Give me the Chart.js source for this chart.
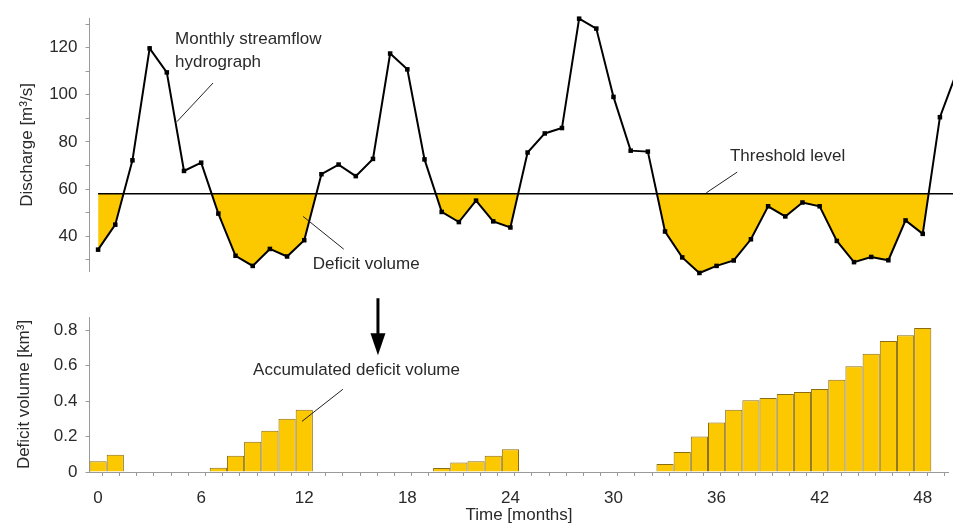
<!DOCTYPE html>
<html>
<head>
<meta charset="utf-8">
<script src="https://cdn.jsdelivr.net/npm/chart.js@4.4.0/dist/chart.umd.min.js"></script>
<style>
  html, body { margin: 0; padding: 0; background: #fff; overflow: hidden; }
  #wrap { position: relative; width: 953px; height: 526px; }
  #c1 { position: absolute; left: 0; top: 0; }
  #c2 { position: absolute; left: 0; top: 290px; }
</style>
</head>
<body>
<div id="wrap">
  <canvas id="c1" width="953" height="290"></canvas>
  <canvas id="c2" width="953" height="236"></canvas>
</div>
<script>
// ---------- DATA ----------
const months = [0,1,2,3,4,5,6,7,8,9,10,11,12,13,14,15,16,17,18,19,20,21,22,23,24,25,26,27,28,29,30,31,32,33,34,35,36,37,38,39,40,41,42,43,44,45,46,47,48,49,50];
const discharge = [34.3,44.9,72.2,119.7,109.5,67.7,71.2,49.6,31.7,27.4,34.6,31.4,38.3,66.3,70.4,65.5,72.8,117.5,110.8,72.6,50.3,46.0,55.1,46.3,43.7,75.5,83.6,85.9,132.3,128.1,99.1,76.3,75.9,42.0,31.0,24.4,27.4,29.7,38.7,52.7,48.4,54.3,52.7,38.0,29.0,31.2,29.8,46.7,41.0,90.5,110.0];
const threshold = 58;
const barMonths = [0,1,2,3,4,5,6,7,8,9,10,11,12,13,14,15,16,17,18,19,20,21,22,23,24,25,26,27,28,29,30,31,32,33,34,35,36,37,38,39,40,41,42,43,44,45,46,47,48];
const deficitVolume = [0.06,0.098,0,0,0,0,0,0.024,0.092,0.171,0.233,0.30,0.352,0,0,0,0,0,0,0,0.023,0.053,0.06,0.092,0.128,0,0,0,0,0,0,0,0,0.045,0.113,0.20,0.279,0.352,0.405,0.418,0.44,0.452,0.469,0.521,0.597,0.668,0.74,0.772,0.813];
const dischargeTicks = [30,40,50,60,70,80,90,100,110,120,130];
const dischargeLabels = [40,60,80,100,120];
const volumeTicks = [0,0.2,0.4,0.6,0.8];
const monthLabels = [0,6,12,18,24,30,36,42,48];

// ---------- STYLE ----------
const YELLOW = '#FCC800';
const AXIS = '#9a9a9a';
const TXT = '#2a2a2a';
const FONT = '"Liberation Sans", Arial, Helvetica, sans-serif';
Chart.defaults.font.family = FONT;
Chart.defaults.font.size = 17;
Chart.defaults.color = TXT;

const notesPlugin = {
  id: 'notes',
  afterDraw(chart, args, opts) {
    const { ctx } = chart;
    const x = chart.scales.x, y = chart.scales.y;
    ctx.save();
    ctx.font = '17px ' + FONT;
    ctx.fillStyle = TXT;
    ctx.textBaseline = 'middle';
    ctx.textAlign = 'left';
    (opts.texts || []).forEach(t => ctx.fillText(t.text, x.getPixelForValue(t.x), y.getPixelForValue(t.y)));
    ctx.strokeStyle = '#222';
    ctx.lineWidth = 1;
    (opts.lines || []).forEach(l => {
      ctx.beginPath();
      ctx.moveTo(x.getPixelForValue(l[0]), y.getPixelForValue(l[1]));
      ctx.lineTo(x.getPixelForValue(l[2]), y.getPixelForValue(l[3]));
      ctx.stroke();
    });
    (opts.arrows || []).forEach(a => {
      const px = x.getPixelForValue(a.x);
      const y0 = y.getPixelForValue(a.from), y1 = y.getPixelForValue(a.to);
      ctx.fillStyle = '#000';
      ctx.strokeStyle = '#000';
      ctx.lineWidth = 3;
      ctx.beginPath(); ctx.moveTo(px, y0); ctx.lineTo(px, y1 - 18); ctx.stroke();
      ctx.beginPath(); ctx.moveTo(px - 7.5, y1 - 22); ctx.lineTo(px + 7.5, y1 - 22); ctx.lineTo(px, y1); ctx.closePath(); ctx.fill();
    });
    ctx.restore();
  }
};

// ---------- TOP CHART ----------
new Chart(document.getElementById('c1'), {
  type: 'line',
  data: {
    datasets: [
      {
        label: 'Monthly streamflow hydrograph',
        data: months.map((m, i) => ({ x: m, y: discharge[i] })),
        borderColor: '#000',
        borderWidth: 2,
        tension: 0,
        pointStyle: 'rect',
        pointRadius: 3.2,
        pointBackgroundColor: '#000',
        pointBorderColor: '#000',
        pointBorderWidth: 0,
        fill: { target: { value: threshold }, above: 'rgba(0,0,0,0)', below: YELLOW },
        clip: false,
        order: 2
      },
      {
        label: 'Threshold level',
        data: [{ x: months[0], y: threshold }, { x: months[months.length - 1], y: threshold }],
        borderColor: '#000',
        borderWidth: 1.6,
        pointRadius: 0,
        fill: false,
        clip: false,
        order: 1
      }
    ]
  },
  options: {
    responsive: false,
    animation: false,
    events: [],
    layout: { padding: { left: 0, right: 4.5, top: 13, bottom: 7 } },
    scales: {
      x: { type: 'linear', min: -0.5, max: 49.5, display: false },
      y: {
        type: 'linear', min: 24.9, max: 132.5,
        afterFit: s => { s.width = 89.5; },
        afterBuildTicks: s => { s.ticks = dischargeTicks.map(v => ({ value: v })); },
        ticks: {
          padding: 8,
          font: { size: 17 },
          color: TXT,
          callback: v => dischargeLabels.includes(v) ? String(v) : ''
        },
        grid: { drawOnChartArea: false, drawTicks: true, tickLength: 4, color: AXIS, tickColor: AXIS },
        border: { display: true, color: AXIS, width: 1 },
        title: { display: true, text: 'Discharge [m³/s]', font: { size: 17 }, color: TXT, padding: { top: 16.8, bottom: 0 } }
      }
    },
    plugins: {
      legend: { display: false },
      tooltip: { enabled: false },
      notes: {
        texts: [
          { text: 'Monthly streamflow', x: 4.48, y: 123.7 },
          { text: 'hydrograph', x: 4.48, y: 113.7 },
          { text: 'Threshold level', x: 36.78, y: 73.9 },
          { text: 'Deficit volume', x: 12.5, y: 28.1 }
        ],
        lines: [
          [6.69, 105, 4.59, 88.6],
          [37.2, 67.2, 35.4, 58.4],
          [11.93, 48.4, 14.3, 34.5]
        ]
      }
    }
  },
  plugins: [notesPlugin]
});

// ---------- BOTTOM CHART ----------
const halfTicks = [];
for (let k = -1; k <= 99; k++) halfTicks.push(k / 2);

new Chart(document.getElementById('c2'), {
  type: 'bar',
  data: {
    datasets: [{
      label: 'Accumulated deficit volume',
      data: barMonths.map((m, i) => ({ x: m, y: deficitVolume[i] })),
      backgroundColor: YELLOW,
      borderColor: '#8a6c12',
      borderWidth: c => (c.raw && c.raw.y > 0 ? 1 : 0),
      // tick marks sit every half month, so the ruler's minimum spacing is half a bar slot
      barPercentage: 2,
      categoryPercentage: 1
    }]
  },
  options: {
    responsive: false,
    animation: false,
    events: [],
    layout: { padding: { left: 0, right: 4.5, top: 27, bottom: 0 } },
    scales: {
      x: {
        type: 'linear', min: -0.5, max: 49.5, offset: false,
        afterFit: s => { s.height = 54; },
        afterBuildTicks: s => { s.ticks = halfTicks.map(v => ({ value: v })); },
        ticks: {
          autoSkip: false, maxRotation: 0, minRotation: 0, padding: 4.5,
          font: { size: 17, lineHeight: 2.06 }, color: TXT,
          callback: v => monthLabels.includes(v) ? String(v) : ''
        },
        grid: {
          drawOnChartArea: false, drawTicks: true, tickLength: 4, color: AXIS,
          tickColor: c => (c.tick && Number.isInteger(c.tick.value)) ? 'rgba(0,0,0,0)' : AXIS
        },
        border: { display: true, color: AXIS, width: 1 },
        title: { display: true, text: 'Time [months]', font: { size: 17 }, color: TXT, padding: { top: 0, bottom: 0 } }
      },
      y: {
        type: 'linear', min: 0, max: 0.875,
        afterFit: s => { s.width = 89.5; },
        afterBuildTicks: s => { s.ticks = volumeTicks.map(v => ({ value: v })); },
        ticks: {
          padding: 8, font: { size: 17 }, color: TXT,
          callback: v => v === 0 ? '0' : v.toFixed(1)
        },
        grid: { drawOnChartArea: false, drawTicks: true, tickLength: 4, color: AXIS, tickColor: AXIS },
        border: { display: true, color: AXIS, width: 1 },
        title: { display: true, text: 'Deficit volume [km³]', font: { size: 17 }, color: TXT, padding: { top: 13.8, bottom: 0 } }
      }
    },
    plugins: {
      legend: { display: false },
      tooltip: { enabled: false },
      notes: {
        texts: [
          { text: 'Accumulated deficit volume', x: 9.02, y: 0.575 }
        ],
        lines: [
          [14.25, 0.467, 11.87, 0.286]
        ],
        arrows: [
          { x: 16.29, from: 0.981, to: 0.659 }
        ]
      }
    }
  },
  plugins: [notesPlugin]
});
</script>
</body>
</html>
